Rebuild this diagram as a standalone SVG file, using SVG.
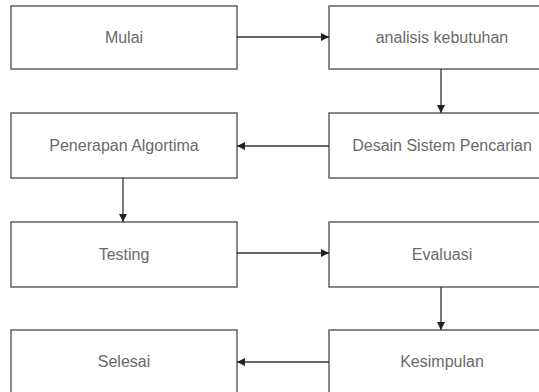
<svg xmlns="http://www.w3.org/2000/svg" width="539" height="392" viewBox="0 0 539 392">
<defs>
<style>
.box{fill:#ffffff;stroke:#555555;stroke-width:1.4}
.lbl{font-family:"Liberation Sans",Arial,sans-serif;font-size:16px;fill:#6a6a6a;text-anchor:middle}
.edge{stroke:#333333;stroke-width:1.3;fill:none;marker-end:url(#ah)}
</style>
<marker id="ah" viewBox="0 0 10 10" refX="10" refY="5" markerWidth="8" markerHeight="8" markerUnits="userSpaceOnUse" orient="auto">
<path d="M0,0 L10,5 L0,10 z" fill="#222222"/>
</marker>
</defs>
<rect x="0" y="0" width="539" height="392" fill="#ffffff"/>
<g id="mulai"><rect class="box" x="11" y="6" width="226" height="63"/><text class="lbl" x="124" y="43">Mulai</text></g>
<g id="analisis"><rect class="box" x="329" y="6" width="226" height="63"/><text class="lbl" x="442" y="43">analisis kebutuhan</text></g>
<g id="penerapan"><rect class="box" x="11" y="113" width="226" height="65"/><text class="lbl" x="124" y="151">Penerapan Algortima</text></g>
<g id="desain"><rect class="box" x="329" y="113" width="226" height="65"/><text class="lbl" x="442" y="151">Desain Sistem Pencarian</text></g>
<g id="testing"><rect class="box" x="11" y="222" width="226" height="65"/><text class="lbl" x="124" y="260">Testing</text></g>
<g id="evaluasi"><rect class="box" x="329" y="222" width="226" height="65"/><text class="lbl" x="442" y="260">Evaluasi</text></g>
<g id="selesai"><rect class="box" x="11" y="330" width="226" height="70"/><text class="lbl" x="124" y="367">Selesai</text></g>
<g id="kesimpulan"><rect class="box" x="329" y="330" width="226" height="70"/><text class="lbl" x="442" y="367">Kesimpulan</text></g>
<g id="connectors">
<line class="edge" x1="237" y1="37" x2="329" y2="37"/>
<line class="edge" x1="441" y1="69" x2="441" y2="113"/>
<line class="edge" x1="329" y1="146" x2="237" y2="146"/>
<line class="edge" x1="123" y1="178" x2="123" y2="222"/>
<line class="edge" x1="237" y1="253" x2="329" y2="253"/>
<line class="edge" x1="441" y1="287" x2="441" y2="330"/>
<line class="edge" x1="329" y1="362" x2="237" y2="362"/>
</g>
</svg>
